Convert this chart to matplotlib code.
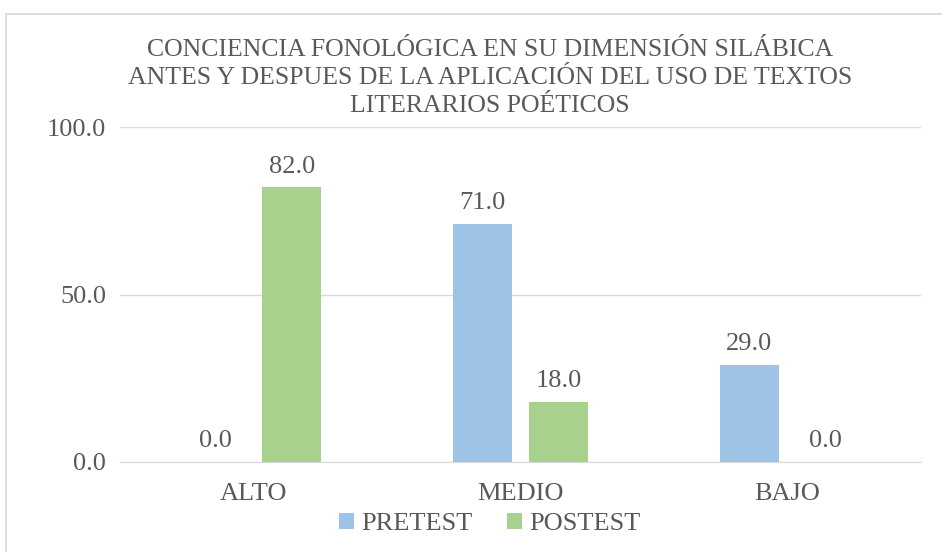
import matplotlib
matplotlib.use("Agg")
import matplotlib.pyplot as plt
import numpy as np
from matplotlib.patches import Rectangle

categories = ["ALTO", "MEDIO", "BAJO"]
pretest = [0.0, 71.0, 29.0]
postest = [82.0, 18.0, 0.0]
series_names = ["PRETEST", "POSTEST"]
yticks = [0.0, 50.0, 100.0]
title = ("CONCIENCIA FONOLÓGICA EN SU DIMENSIÓN SILÁBICA\n"
         "ANTES Y DESPUES DE LA APLICACIÓN DEL USO DE TEXTOS\n"
         "LITERARIOS POÉTICOS")

plt.rcParams['font.family'] = ['Liberation Serif', 'DejaVu Serif']
txt = '#595959'
c_pre = '#9DC3E6'
c_post = '#A9D18E'
fs = 19

fig = plt.figure(figsize=(9.42, 5.52), dpi=100)
fig.patches.append(Rectangle((6/942, -0.1), 1.2, 1 - 14/552 + 0.1,
                             transform=fig.transFigure, fill=False,
                             edgecolor='#D9D9D9', linewidth=1.2))
ax = fig.add_axes([120/942, 1 - 462/552, 801/942, 335/552])

x = np.arange(len(categories))
w = 0.222
off = 0.143
b1 = ax.bar(x - off, pretest, w, color=c_pre, label=series_names[0])
b2 = ax.bar(x + off, postest, w, color=c_post, label=series_names[1])
for bars in (b1, b2):
    for r in bars:
        ax.annotate(f"{r.get_height():.1f}", (r.get_x() + r.get_width()/2, r.get_height()),
                    xytext=(0, 7), textcoords='offset points', ha='center', va='bottom',
                    fontsize=fs, color=txt)

ax.set_xlim(-0.5, 2.5)
ax.set_ylim(0, 100)
ax.set_yticks(yticks)
ax.set_yticklabels([f"{v:.1f}" for v in yticks])
ax.set_xticks(x)
ax.set_xticklabels(categories)
ax.tick_params(axis='both', length=0, labelsize=fs, labelcolor=txt)
ax.tick_params(axis='x', pad=15)
ax.tick_params(axis='y', pad=10)
ax.grid(axis='y', color='#D9D9D9', linewidth=1)
ax.set_axisbelow(True)
for s in ['top', 'right', 'left']:
    ax.spines[s].set_visible(False)
ax.spines['bottom'].set_color('#D9D9D9')

fig.text(0.5 * (148 + 832) / 942, 1 - 78/552, title, ha='center', va='center', fontsize=18.5,
         color=txt, linespacing=1.33)

leg = fig.legend(handles=[b1, b2], labels=series_names, loc='center',
                 bbox_to_anchor=(490/942, 1 - 524/552), ncol=2, frameon=False,
                 fontsize=fs, handlelength=0.55, handleheight=0.55,
                 handletextpad=0.3, columnspacing=1.3)
for t in leg.get_texts():
    t.set_color(txt)

fig.savefig("out.png", dpi=100)
